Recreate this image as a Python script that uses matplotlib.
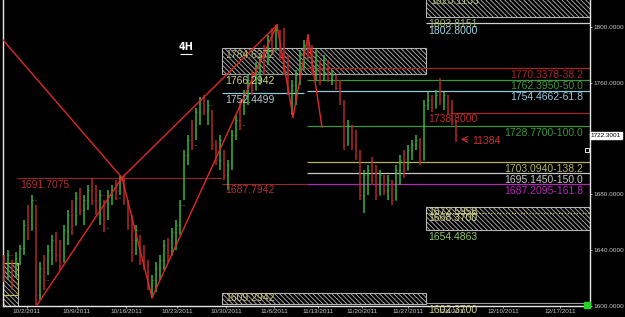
import numpy as np
import matplotlib
matplotlib.use("Agg")
import matplotlib.pyplot as plt
from matplotlib.patches import Rectangle

# 4H price bars (bar index = position on the chart), open = previous close
highs = [1636.6, 1640.2, 1633.0, 1638.7, 1643.7, 1661.7, 1672.4, 1679.6, 1672.4, 1631.6,
         1636.6, 1643.7, 1650.9, 1653.1, 1647.3, 1658.1, 1668.8, 1676.0, 1681.7, 1684.6,
         1679.6, 1686.7, 1691.8, 1686.7, 1683.2, 1676.0, 1683.2, 1686.7, 1690.3, 1693.2,
         1693.9, 1676.0, 1665.2, 1658.1, 1650.9, 1643.7, 1633.0, 1622.2, 1631.6, 1636.6,
         1647.3, 1648.8, 1655.9, 1661.7, 1676.0, 1711.8, 1722.6, 1733.3, 1741.9, 1749.8,
         1751.3, 1747.7, 1740.5, 1719.0, 1722.6, 1711.8, 1704.7, 1726.2, 1736.9, 1747.7,
         1754.8, 1765.6, 1769.2, 1774.9, 1779.9, 1787.1, 1794.3, 1799.3, 1801.4, 1797.8,
         1799.3, 1779.9, 1762.0, 1769.2, 1783.5, 1790.7, 1794.3, 1787.1, 1783.5, 1776.3,
         1779.9, 1776.3, 1769.2, 1765.6, 1762.0, 1747.7, 1733.3, 1729.8, 1726.2, 1711.8,
         1697.5, 1701.1, 1706.8, 1701.1, 1697.5, 1693.9, 1693.9, 1690.3, 1701.1, 1708.3,
         1711.8, 1715.4, 1719.0, 1722.6, 1720.4, 1747.7, 1753.4, 1751.3, 1754.8, 1763.4,
         1753.4, 1751.3, 1747.7, 1733.3]
lows = [1617.2, 1618.6, 1611.5, 1620.1, 1629.4, 1636.6, 1647.3, 1654.5, 1600.7, 1604.3,
        1611.5, 1622.2, 1629.4, 1631.6, 1625.8, 1631.6, 1643.7, 1650.9, 1658.1, 1665.2,
        1658.1, 1668.8, 1672.4, 1665.2, 1658.1, 1653.1, 1661.7, 1672.4, 1676.0, 1679.6,
        1672.4, 1654.5, 1631.6, 1636.6, 1629.4, 1625.8, 1611.5, 1605.8, 1610.1, 1618.6,
        1625.8, 1631.6, 1636.6, 1640.2, 1650.9, 1676.0, 1701.1, 1711.8, 1719.0, 1729.8,
        1736.9, 1729.8, 1711.8, 1701.1, 1697.5, 1690.3, 1683.2, 1697.5, 1719.0, 1726.2,
        1736.9, 1744.1, 1751.3, 1754.8, 1758.4, 1765.6, 1772.8, 1779.9, 1783.5, 1776.3,
        1765.6, 1751.3, 1736.9, 1744.1, 1758.4, 1769.2, 1776.3, 1765.6, 1762.0, 1758.4,
        1762.0, 1760.6, 1758.4, 1754.8, 1744.1, 1711.8, 1715.4, 1711.8, 1704.7, 1676.0,
        1666.7, 1679.6, 1686.7, 1676.0, 1679.6, 1679.6, 1676.0, 1672.4, 1676.0, 1686.7,
        1691.8, 1697.5, 1704.7, 1711.8, 1701.1, 1704.7, 1740.5, 1739.1, 1741.9, 1744.1,
        1740.5, 1736.9, 1729.8, 1717.6]
closes = [1625.8, 1636.6, 1617.2, 1634.4, 1641.6, 1658.1, 1654.5, 1676.0, 1607.9, 1627.3,
          1618.6, 1640.2, 1647.3, 1636.6, 1631.6, 1654.5, 1665.2, 1658.1, 1677.4, 1668.8,
          1676.0, 1683.2, 1676.0, 1668.8, 1679.6, 1655.9, 1679.6, 1683.2, 1677.4, 1690.3,
          1676.0, 1658.1, 1647.3, 1654.5, 1633.0, 1629.4, 1615.1, 1618.6, 1627.3, 1633.0,
          1643.7, 1636.6, 1653.1, 1658.1, 1672.4, 1708.3, 1719.0, 1715.4, 1739.1, 1747.7,
          1740.5, 1744.1, 1715.4, 1704.7, 1719.0, 1693.9, 1701.1, 1722.6, 1733.3, 1729.8,
          1751.3, 1762.0, 1754.8, 1772.8, 1776.3, 1769.2, 1790.7, 1783.5, 1797.8, 1779.9,
          1769.2, 1754.8, 1758.4, 1765.6, 1779.9, 1787.1, 1779.9, 1769.2, 1779.9, 1762.0,
          1776.3, 1763.4, 1765.6, 1756.3, 1747.7, 1715.4, 1729.8, 1715.4, 1708.3, 1679.6,
          1693.9, 1697.5, 1690.3, 1679.6, 1693.9, 1683.2, 1690.3, 1676.0, 1697.5, 1704.7,
          1697.5, 1711.8, 1715.4, 1719.0, 1704.7, 1744.1, 1747.7, 1741.9, 1751.3, 1747.7,
          1751.3, 1740.5, 1733.3, 1722.3]
first_open = 1630.0

# harmonic pattern pivots (bar, price) and the legs joining them
pivot_x = [-0.25, 8.25, 29.5, 37.0, 68.25, 72.25, 76.0, 79.5]
pivot_p = [1790.7, 1600.7, 1692.0, 1606.0, 1801.4, 1735.5, 1794.3, 1728.3]
legs = [(0, 2), (1, 2), (2, 3), (3, 4), (2, 4), (4, 5), (5, 6), (6, 7)]

# fibonacci projection levels on the right
fib_prices = [1770.3378, 1762.3950, 1754.4662, 1728.7700, 1703.0940, 1695.1450, 1687.2095]
fib_labels = ["1770.3378-38.2", "1762.3950-50.0", "1754.4662-61.8", "1728.7700-100.0",
              "1703.0940-138.2", "1695.1450-150.0", "1687.2095-161.8"]
fib_colors = ["#a82424", "#3c963c", "#96c8dc", "#3c963c", "#b4b464", "#c8c8c8", "#b428b4"]

# hatched zones: x0, x1, price low, price high
zones = [(54.5, 105.5, 1766.3, 1785.0), (105.5, 146.5, 1807.0, 1823.1),
         (105.5, 146.5, 1654.5, 1671.0), (54.5, 105.5, 1601.4, 1609.6),
         (-0.25, 3.5, 1600.2, 1630.8)]

tick_pos = [5.75, 18.25, 30.5, 43.25, 55.5, 67.5, 78.5, 89.5, 101, 112.25, 124.75, 139]
tick_labels = ["10/2/2011", "10/9/2011", "10/16/2011", "10/23/2011", "10/30/2011", "11/6/2011",
               "11/13/2011", "11/20/2011", "11/27/2011", "12/4/2011", "12/10/2011", "12/17/2011"]
last_price = 1722.3001

lab_font = ["Liberation Sans", "DejaVu Sans"]
fs = 7.5

plt.rcParams["hatch.linewidth"] = 0.6

fig = plt.figure(figsize=(6.25, 3.17), dpi=100, facecolor="black")
ax = fig.add_axes([3 / 625, 11 / 317, 587 / 625, 306 / 317], facecolor="black")
ax.set_xlim(-0.25, 146.5)
ax.set_ylim(1600.0, 1819.4)

# hatched zones
for x0, x1, p0, p1 in zones:
    ax.add_patch(Rectangle((x0, p0), x1 - x0, p1 - p0, facecolor="black",
                           edgecolor="#b4b4b4", hatch="\\" * 7, lw=0.8, zorder=1))
ax.add_patch(Rectangle((-0.25, 1608.0), 3.75, 22.8, facecolor="none",
                       edgecolor="#c8c060", lw=0.8, zorder=2))
ax.hlines(1607.9, -0.25, 3.5, color="#c8c060", lw=0.8, zorder=2)

# price bars
x = np.arange(len(closes))
opens = np.array([first_open] + closes[:-1])
closes_a = np.array(closes)
cols = np.where(closes_a >= opens, "#3cb43c", "#b42828")
ax.vlines(x, lows, highs, colors=cols, lw=1.1, zorder=3)
ax.hlines(opens, x - 0.35, x, colors=cols, lw=0.8, zorder=3)
ax.hlines(closes_a, x, x + 0.35, colors=cols, lw=0.8, zorder=3)

# pattern legs
for a, b in legs:
    ax.plot([pivot_x[a], pivot_x[b]], [pivot_p[a], pivot_p[b]], color="#e02828", lw=1.0, zorder=4)

# fib levels
for p, lab, c in zip(fib_prices, fib_labels, fib_colors):
    ax.hlines(p, 75.75, 146.5, color=c, lw=0.9, zorder=2)
    ax.text(144.75, p - 1.0, lab, color=c, ha="right", va="top", fontsize=fs, family=lab_font, zorder=5)

# other levels
ax.hlines(1691.7075, 3.25, 54.5, color="#962828", lw=0.8, zorder=2)
ax.text(4.0, 1690.5, "1691.7075", color="#b43030", va="top", fontsize=fs, family=lab_font)
ax.hlines(1687.7942, 54.5, 75.75, color="#962828", lw=0.8, zorder=2)
ax.text(55.25, 1686.5, "1687.7942", color="#b43030", va="top", fontsize=fs, family=lab_font)
ax.hlines(1752.4499, 54.5, 75.0, color="#96c8dc", lw=0.9, zorder=2)
ax.text(55.25, 1751.0, "1752.4499", color="#b4c8d2", va="top", fontsize=fs, family=lab_font, zorder=5)
ax.hlines(1766.3, 54.5, 105.5, color="#9a9a9a", lw=0.8, zorder=2)
ax.text(55.25, 1765.0, "1766.2942", color="#d2d28c", va="top", fontsize=fs, family=lab_font, zorder=5)
ax.text(55.25, 1783.8, "1784.6372", color="#b4b478", va="top", fontsize=fs, family=lab_font, zorder=5)
ax.hlines(1738.4, 111.5, 146.5, color="#a82424", lw=0.9, zorder=2)
ax.text(106.0, 1738.0, "1738.8000", color="#b43030", va="top", fontsize=fs, family=lab_font, zorder=5)
ax.hlines(1802.9, 105.5, 146.5, color="#c8d2dc", lw=0.9, zorder=2)
ax.text(106.0, 1806.0, "1803.8151", color="#a0b46e", va="top", fontsize=fs, family=lab_font, zorder=5)
ax.text(106.0, 1801.0, "1802.8000", color="#a0d0e0", va="top", fontsize=fs, family=lab_font, zorder=5)
ax.text(106.5, 1822.0, "1823.1135", color="#b4c878", va="top", fontsize=fs, family=lab_font, zorder=5)
ax.hlines(1666.7, 105.5, 146.5, color="#d2d264", lw=0.8, ls=":", zorder=2)
ax.text(106.0, 1671.2, "1672.5958", color="#d2d28c", va="top", fontsize=fs, family=lab_font, zorder=5)
ax.text(106.0, 1666.5, "1668.3700", color="#d2d28c", va="top", fontsize=fs, family=lab_font, zorder=5)
ax.text(106.0, 1653.2, "1654.4863", color="#8cc864", va="top", fontsize=fs, family=lab_font, zorder=5)
ax.hlines(1602.2, 105.5, 146.5, color="#9a9a9a", lw=0.8, zorder=2)
ax.text(106.0, 1600.8, "1602.3700", color="#d2d28c", va="top", fontsize=fs, family=lab_font,
        zorder=5, clip_on=False)
ax.text(55.25, 1609.0, "1609.2942", color="#c8c878", va="top", fontsize=fs, family=lab_font, zorder=5)

# projection arrow and ratio
ax.annotate("", xy=(113.5, 1719.5), xytext=(116.5, 1719.5),
            arrowprops=dict(arrowstyle="->", color="#c83030", lw=0.8))
ax.text(117.0, 1718.5, "11384", color="#c83030", va="center", fontsize=fs, family=lab_font)

# timeframe tag
ax.text(45.5, 1785.5, "4H", color="white", ha="center", va="center", fontsize=7, fontweight="bold")
ax.hlines(1780.8, 44.0, 47.0, color="white", lw=0.8)

# axes styling
for side in ["left", "bottom", "right"]:
    ax.spines[side].set_color("#e6e6e6")
    ax.spines[side].set_linewidth(1.0)
ax.spines["top"].set_visible(False)
ax.yaxis.tick_right()
yt = [1600, 1640, 1680, 1760, 1800]
ax.set_yticks(yt, [f"{v:.4f}" for v in yt])
ax.set_xticks(tick_pos, tick_labels)
ax.tick_params(axis="both", colors="#c8c8c8", labelsize=4.6, length=1.5, width=0.6, pad=1.0)
for t in ax.get_xticklabels() + ax.get_yticklabels():
    t.set_family(lab_font)

ax.text(146.7, last_price, f"{last_price:.4f}", color="black", fontsize=4.6, va="center",
        ha="left", family=lab_font, clip_on=False,
        bbox=dict(boxstyle="square,pad=0.1", fc="white", ec="white"))
ax.plot([145.8], [1711.5], marker="s", ms=3.5, mfc="black", mec="#e6e6e6", mew=0.7, clip_on=False)
ax.plot([145.8], [1600.6], marker="s", ms=4, mfc="#28d228", mec="#28d228", clip_on=False, zorder=6)

fig.savefig("out.png", dpi=100, facecolor="black")
